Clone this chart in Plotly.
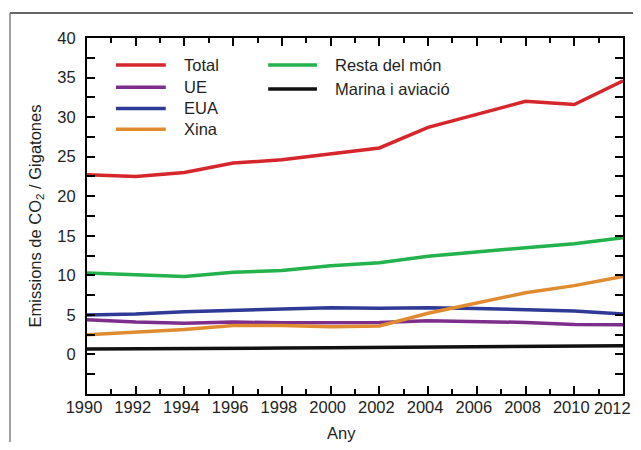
import plotly.graph_objects as go

years = [1990, 1992, 1994, 1996, 1998, 2000, 2002, 2004, 2006, 2008, 2010, 2012]
total = [22.7, 22.5, 23.0, 24.2, 24.6, 25.4, 26.1, 28.7, 30.4, 32.0, 31.6, 34.6]
ue = [4.4, 4.1, 3.95, 4.1, 4.0, 4.0, 4.05, 4.25, 4.2, 4.05, 3.8, 3.75]
eua = [5.0, 5.1, 5.4, 5.6, 5.8, 5.9, 5.85, 5.9, 5.8, 5.7, 5.5, 5.1]
xina = [2.5, 2.8, 3.15, 3.65, 3.65, 3.5, 3.6, 5.2, 6.5, 7.8, 8.7, 9.85]
resta = [10.3, 10.05, 9.85, 10.4, 10.6, 11.2, 11.6, 12.4, 13.0, 13.5, 14.0, 14.75]
marina = [0.7, 0.7, 0.7, 0.75, 0.8, 0.85, 0.9, 0.95, 1.0, 1.05, 1.05, 1.1]

names = ["Total", "UE", "EUA", "Xina", "Resta del món", "Marina i aviació"]
series = [total, ue, eua, xina, resta, marina]
colors = ["#d7262b", "#7d2e8d", "#2e3a95", "#e08b30", "#23b24b", "#111111"]

x_ticks = list(range(1990, 2011, 2))   # 2012 sits on the right axis line; its label is placed below
x_last = 2012
x_minor = list(range(1991, 2012, 2))
y_ticks = [0, 5, 10, 15, 20, 25, 30, 35, 40]
y_minor = [-5, -2.5, 2.5, 7.5, 12.5, 17.5, 22.5, 27.5, 32.5, 37.5]

FONT = "Liberation Sans, Arial, sans-serif"
TXT = "#231f20"

fig = go.Figure()
for n, s, c in zip(names, series, colors):
    fig.add_trace(go.Scatter(x=years, y=s, mode="lines", name=n,
                             line=dict(color=c, width=3.5), showlegend=False))

# manual legend
leg_rows = [(0.054, 0.147, 0.177, 0.924), (0.054, 0.147, 0.177, 0.862),
            (0.054, 0.147, 0.177, 0.802), (0.054, 0.147, 0.177, 0.744),
            (0.338, 0.429, 0.459, 0.924), (0.338, 0.429, 0.459, 0.857)]
shapes = []
annotations = []
for (x0, x1, xt, yy), n, c in zip(leg_rows, names, colors):
    shapes.append(dict(type="line", xref="paper", yref="paper", x0=x0, x1=x1, y0=yy, y1=yy,
                       line=dict(color=c, width=3.5)))
    annotations.append(dict(xref="paper", yref="paper", x=xt, y=yy, text=n, showarrow=False,
                            xanchor="left", yanchor="middle", font=dict(size=16.5, color=TXT, family=FONT)))

# outer frame
shapes.append(dict(type="line", xref="paper", yref="paper", x0=-0.1437, x1=1.06, y0=1.0702, y1=1.0702,
                   line=dict(color="#333333", width=1.5)))
shapes.append(dict(type="line", xref="paper", yref="paper", x0=-0.1437, x1=-0.1437, y0=1.0702, y1=-0.2,
                   line=dict(color="#808080", width=1.5)))

annotations.append(dict(xref="paper", yref="paper", x=0.474, y=-0.078, text="Any", showarrow=False,
                        xanchor="center", yanchor="top", font=dict(size=16.5, color=TXT, family=FONT)))
annotations.append(dict(xref="x", yref="paper", x=x_last, y=-0.04, text=str(x_last), showarrow=False,
                        xanchor="right", yanchor="middle", xshift=10,
                        font=dict(size=16.5, color=TXT, family=FONT)))

# page body has an 8px margin: figure sized to fit the window without scrollbars
fig.update_layout(
    width=625, height=434,
    margin=dict(l=79, r=10, t=30, b=48, autoexpand=False),
    paper_bgcolor="white", plot_bgcolor="white",
    font=dict(family=FONT, size=16.5, color=TXT),
    shapes=shapes, annotations=annotations,
    xaxis=dict(range=[1990, 2012], tickmode="array", tickvals=x_ticks,
               ticks="inside", ticklen=8, tickwidth=2, tickcolor="black",
               showline=True, linecolor="black", linewidth=2, mirror="allticks",
               showgrid=False, zeroline=False, ticklabelstandoff=-3, ticklabelshift=-3,
               minor=dict(tickmode="array", tickvals=x_minor, ticks="inside", ticklen=5,
                          tickwidth=2, tickcolor="black", showgrid=False)),
    yaxis=dict(range=[-5, 40], tickmode="array", tickvals=y_ticks,
               ticks="inside", ticklen=8, tickwidth=2, tickcolor="black",
               showline=True, linecolor="black", linewidth=2, mirror="allticks",
               showgrid=False, zeroline=False, ticklabelstandoff=6,
               title=dict(text="Emissions de CO<sub>2</sub> / Gigatones", standoff=12,
                          font=dict(size=16.5, color=TXT, family=FONT)),
               minor=dict(tickmode="array", tickvals=y_minor, ticks="inside", ticklen=8,
                          tickwidth=2, tickcolor="black", showgrid=False)),
)

fig.write_html("out.html")
